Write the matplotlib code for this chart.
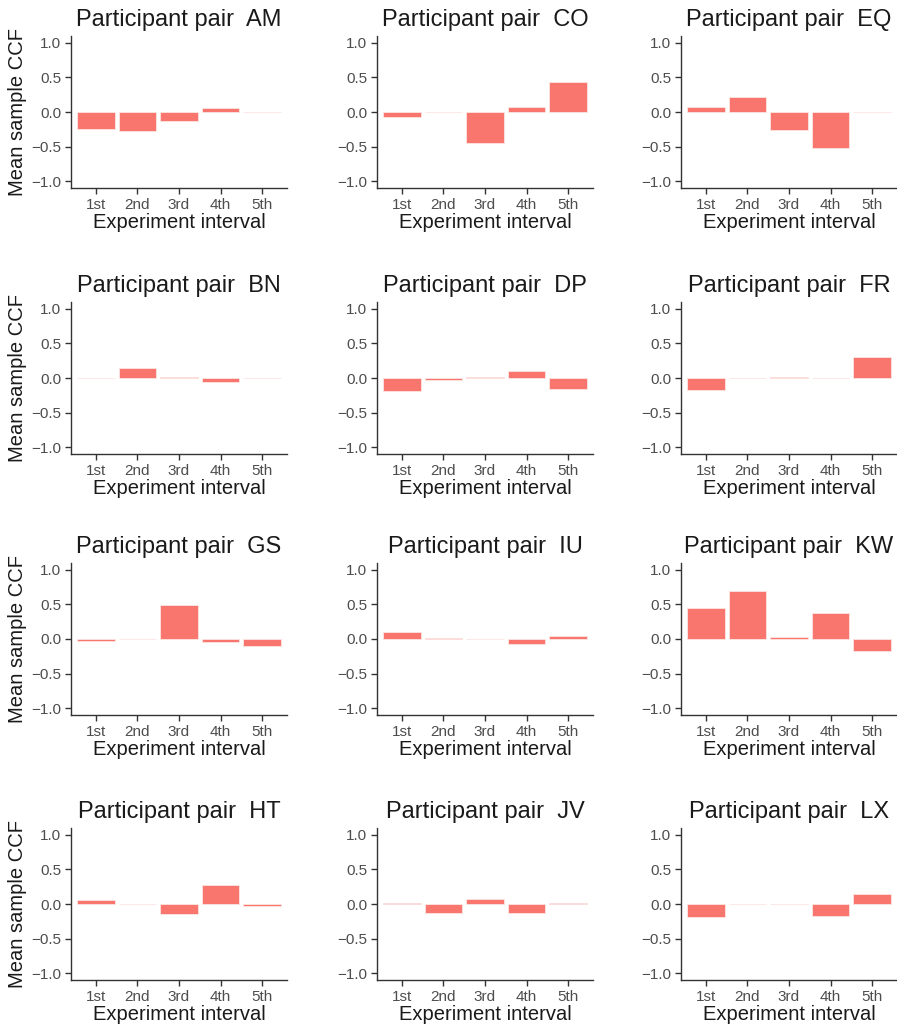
import numpy as np
import matplotlib
matplotlib.use('Agg')
import matplotlib.pyplot as plt

plt.rcParams['font.family'] = ['Liberation Sans', 'DejaVu Sans']

intervals = ['1st', '2nd', '3rd', '4th', '5th']

# panels in reading order (row by row)
pairs = ['AM', 'CO', 'EQ',
         'BN', 'DP', 'FR',
         'GS', 'IU', 'KW',
         'HT', 'JV', 'LX']

ccf_AM = [-0.24, -0.28, -0.125, 0.06, 0.005]
ccf_CO = [-0.07, 0.003, -0.455, 0.068, 0.427]
ccf_EQ = [0.078, 0.21, -0.26, -0.52, -0.005]
ccf_BN = [0.003, 0.15, 0.01, -0.063, 0.002]
ccf_DP = [-0.19, -0.03, 0.01, 0.097, -0.155]
ccf_FR = [-0.175, -0.003, 0.01, -0.005, 0.31]
ccf_GS = [-0.025, -0.005, 0.49, -0.05, -0.095]
ccf_IU = [0.105, 0.01, 0.003, -0.07, 0.045]
ccf_KW = [0.455, 0.69, 0.03, 0.38, -0.18]
ccf_HT = [0.053, 0.003, -0.14, 0.27, -0.03]
ccf_JV = [0.02, -0.13, 0.068, -0.13, 0.01]
ccf_LX = [-0.19, 0.002, -0.005, -0.17, 0.145]

values = [ccf_AM, ccf_CO, ccf_EQ, ccf_BN, ccf_DP, ccf_FR,
          ccf_GS, ccf_IU, ccf_KW, ccf_HT, ccf_JV, ccf_LX]

W, H = 897, 1027
fig = plt.figure(figsize=(W / 100, H / 100), dpi=100)

col_left = [71, 377, 681]
ax_w = 216
row_top = [36, 302, 563, 828]
ax_h = 152

bar_col = '#F8766D'
x = np.arange(1, 6)

for i, (name, vals) in enumerate(zip(pairs, values)):
    r, c = divmod(i, 3)
    left = col_left[c] / W
    bottom = 1 - (row_top[r] + ax_h) / H
    ax = fig.add_axes([left, bottom, ax_w / W, ax_h / H])
    ax.bar(x, vals, 0.9, color=bar_col, edgecolor='#FCE4E2', linewidth=0.6)
    ax.set_xlim(0.4, 5.6)
    ax.set_ylim(-1.1, 1.1)
    ax.set_yticks([-1.0, -0.5, 0.0, 0.5, 1.0])
    ax.set_yticklabels(['\u22121.0', '\u22120.5', '0.0', '0.5', '1.0'])
    ax.set_xticks(x)
    ax.set_xticklabels(intervals)
    for s in ['top', 'right']:
        ax.spines[s].set_visible(False)
    for s in ['left', 'bottom']:
        ax.spines[s].set_color('#333333')
        ax.spines[s].set_linewidth(1.0)
    ax.tick_params(axis='both', colors='#333333', labelcolor='#4D4D4D',
                   labelsize=11, length=4, width=1.0, pad=3)
    ax.set_title('Participant pair  ' + name, fontsize=17, color='#1A1A1A', pad=7)
    ax.set_xlabel('Experiment interval', fontsize=14.5, color='#1A1A1A', labelpad=1)
    if c == 0:
        ax.set_ylabel('Mean sample CCF', fontsize=14.5, color='#1A1A1A', labelpad=3)

plt.savefig('out.png', dpi=100)
